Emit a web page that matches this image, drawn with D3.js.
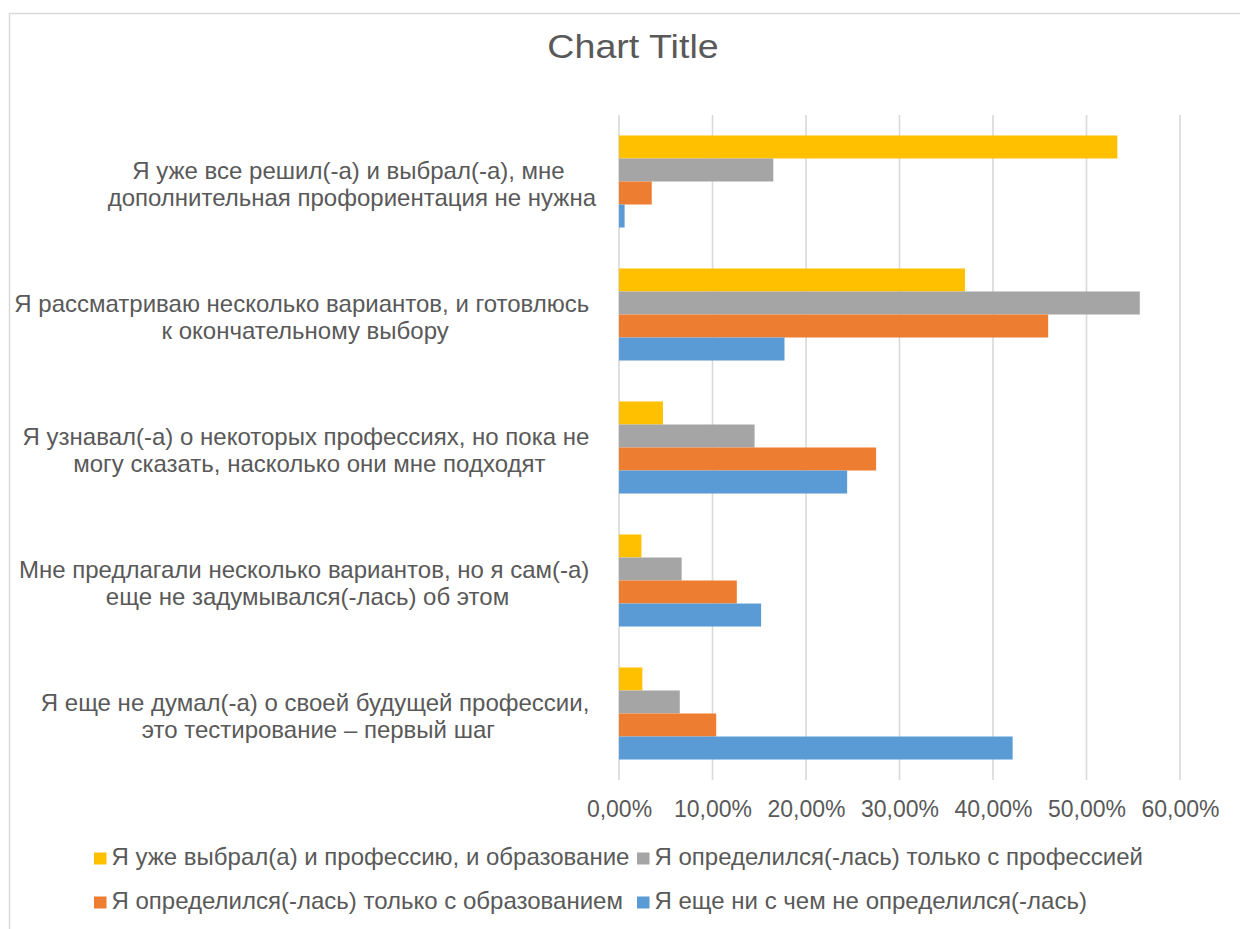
<!DOCTYPE html>
<html>
<head>
<meta charset="utf-8">
<script src="https://cdn.jsdelivr.net/npm/d3@7"></script>
<style>
  html, body { margin: 0; padding: 0; background: #fff; }
  svg text { font-family: "Liberation Sans", Arial, sans-serif; fill: #595959; }
</style>
</head>
<body>
<svg id="chart" width="1240" height="929"></svg>
<script>
// ---- Data ----
const categories = [
  ["Я уже все решил(-а) и выбрал(-а), мне ", "дополнительная профориентация не нужна"],
  ["Я рассматриваю несколько вариантов, и готовлюсь ", "к окончательному выбору"],
  ["Я узнавал(-а) о некоторых профессиях, но пока не ", "могу сказать, насколько они мне подходят"],
  ["Мне предлагали несколько вариантов, но я сам(-а) ", "еще не задумывался(-лась) об этом"],
  ["Я еще не думал(-а) о своей будущей профессии, ", "это тестирование – первый шаг"]
];
const seriesNames = [
  "Я уже выбрал(а) и профессию, и образование",
  "Я определился(-лась) только с профессией",
  "Я определился(-лась) только с образованием",
  "Я еще ни с чем не определился(-лась)"
];
const seriesColors = ["#FFC000", "#A5A5A5", "#ED7D31", "#5B9BD5"];
const chosenBoth    = [0.533, 0.370, 0.047, 0.024, 0.025];
const onlyProf      = [0.165, 0.557, 0.145, 0.067, 0.065];
const onlyEducation = [0.035, 0.459, 0.275, 0.126, 0.104];
const notDecided    = [0.006, 0.177, 0.244, 0.152, 0.421];
const tickValues = [0, 0.1, 0.2, 0.3, 0.4, 0.5, 0.6];
const title = "Chart Title";

const seriesValues = [chosenBoth, onlyProf, onlyEducation, notDecided];

const svg = d3.select("#chart");

// Outer border
svg.append("rect")
  .attr("x", 9.5).attr("y", 13.5)
  .attr("width", 1260).attr("height", 940)
  .attr("fill", "#fff").attr("stroke", "#D9D9D9").attr("stroke-width", 1.5);

// Title
svg.append("text")
  .attr("transform", "translate(633,58) scale(1.14,1)")
  .attr("text-anchor", "middle")
  .style("font-size", "33px")
  .text(title);

const x = d3.scaleLinear().domain([0, 0.6]).range([619, 1180]);
const catIdx = d3.range(categories.length);
const y0 = d3.scaleBand().domain(catIdx).range([115, 780]).padding(0);
const y1 = d3.scaleBand().domain(d3.range(seriesNames.length))
  .range([0, y0.bandwidth()]).paddingInner(0).paddingOuter(0.89);

// Gridlines
svg.append("g").selectAll("line").data(tickValues).join("line")
  .attr("x1", d => x(d)).attr("x2", d => x(d))
  .attr("y1", 115).attr("y2", 780)
  .attr("stroke", "#D9D9D9").attr("stroke-width", 1.6);

// Tick labels via axis
const axis = d3.axisBottom(x).tickValues(tickValues)
  .tickFormat(d => d3.format(".2f")(d * 100).replace(".", ",") + "%")
  .tickSize(0).tickPadding(0);
const ax = svg.append("g").attr("transform", "translate(0,817)").call(axis);
ax.select(".domain").remove();
ax.selectAll("text").style("font-size", "23px").attr("fill", "#595959")
  .attr("dy", "0").attr("y", 0);

// Bars
const groups = svg.append("g").selectAll("g").data(catIdx).join("g")
  .attr("transform", i => `translate(0,${y0(i)})`);
groups.selectAll("rect")
  .data(i => seriesValues.map((vals, s) => ({ s, v: vals[i] })))
  .join("rect")
  .attr("x", x(0))
  .attr("y", d => y1(d.s))
  .attr("width", d => x(d.v) - x(0))
  .attr("height", y1.bandwidth())
  .attr("fill", d => seriesColors[d.s]);

// Category labels (block right-aligned, lines centered in block)
const labelRight = 596;
categories.forEach((lines, i) => {
  const cy = y0(i) + y0.bandwidth() / 2;
  const g = svg.append("g");
  const texts = lines.map((ln, k) => g.append("text")
    .style("font-size", "24px")
    .style("white-space", "pre")
    .attr("text-anchor", "middle")
    .attr("y", cy - 3 + k * 27)
    .text(ln));
  const w = d3.max(texts, t => t.node().getComputedTextLength());
  texts.forEach(t => t.attr("x", labelRight - w / 2));
});

// Legend
const legendCols = [94, 637];
const legendRows = [865, 909];
seriesNames.forEach((name, s) => {
  const lx = legendCols[s % 2];
  const ly = legendRows[Math.floor(s / 2)];
  svg.append("rect")
    .attr("x", lx).attr("y", ly - 12.5)
    .attr("width", 12.5).attr("height", 12)
    .attr("fill", seriesColors[s]);
  svg.append("text")
    .attr("x", lx + 17.5).attr("y", ly)
    .style("font-size", "24px")
    .text(name);
});
</script>
</body>
</html>
